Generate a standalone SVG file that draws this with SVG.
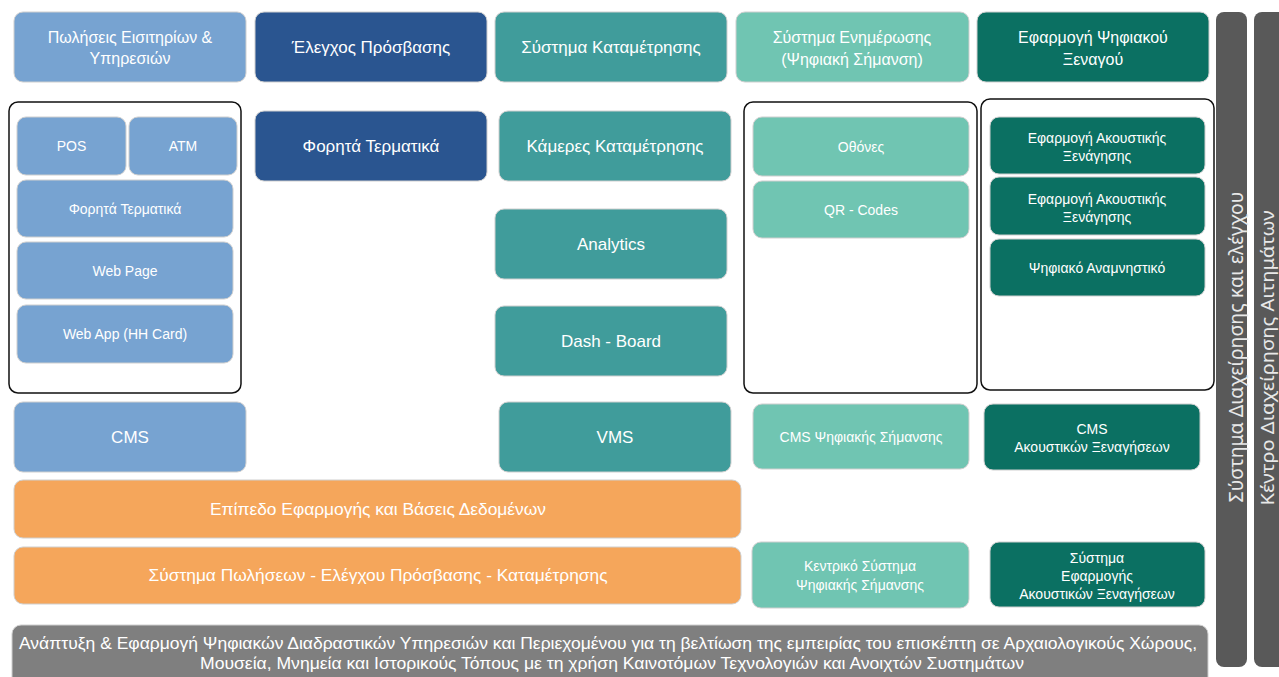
<svg xmlns="http://www.w3.org/2000/svg" width="1279" height="677" viewBox="0 0 1279 677">
<style>
text{font-family:"Liberation Sans",Arial,sans-serif;fill:#fff;text-anchor:middle}
.b{stroke:#cfcfcf;stroke-width:1}
.lb{fill:#77a3d1}.db{fill:#2a5590}.tl{fill:#409c9b}.lt{fill:#70c5b2}.dt{fill:#0b7062}.or{fill:#f5a65b}
.cont{fill:#fff;stroke:#111;stroke-width:1.5}
.f17{font-size:17px}.f16{font-size:16px}.f14{font-size:14px}
.vt{font-family:"Noto Sans","Open Sans",sans-serif;font-size:19px;fill:#e8e8e8}
</style>
<rect width="1279" height="677" fill="#fff"/>
<g id="connectors"></g>
<!-- containers -->
<g id="container-sales"><rect class="cont" x="9" y="102" width="232" height="291" rx="9"/></g>
<g id="container-signage"><rect class="cont" x="744" y="102" width="233" height="291" rx="9"/></g>
<g id="container-guide"><rect class="cont" x="981" y="99" width="233" height="291" rx="9"/></g>
<!-- top row -->
<g id="n-sales"><rect class="b lb" x="14" y="12" width="232" height="70" rx="9"/><text class="f16" x="130" y="43">Πωλήσεις Εισιτηρίων &amp;</text><text class="f16" x="130" y="64">Υπηρεσιών</text></g>
<g id="n-access"><rect class="b db" x="255" y="12" width="232" height="70" rx="9"/><text class="f17" x="371" y="53">Έλεγχος Πρόσβασης</text></g>
<g id="n-count"><rect class="b tl" x="495" y="12" width="232" height="70" rx="9"/><text class="f17" x="611" y="53">Σύστημα Καταμέτρησης</text></g>
<g id="n-info"><rect class="b lt" x="736" y="12" width="233" height="70" rx="9"/><text class="f16" x="852" y="43">Σύστημα Ενημέρωσης</text><text class="f16" x="852" y="65">(Ψηφιακή Σήμανση)</text></g>
<g id="n-guide"><rect class="b dt" x="977" y="12" width="232" height="70" rx="9"/><text class="f16" x="1093" y="43">Εφαρμογή Ψηφιακού</text><text class="f16" x="1093" y="65">Ξεναγού</text></g>
<!-- sales column -->
<g id="n-pos"><rect class="b lb" x="17" y="117" width="109" height="58" rx="9"/><text class="f14" x="71.5" y="151">POS</text></g>
<g id="n-atm"><rect class="b lb" x="129" y="117" width="108" height="58" rx="9"/><text class="f14" x="183" y="151">ATM</text></g>
<g id="n-mobile1"><rect class="b lb" x="17" y="180" width="216" height="57" rx="9"/><text class="f14" x="125" y="214">Φορητά Τερματικά</text></g>
<g id="n-webpage"><rect class="b lb" x="17" y="242" width="216" height="57" rx="9"/><text class="f14" x="125" y="276">Web Page</text></g>
<g id="n-webapp"><rect class="b lb" x="17" y="305" width="216" height="58" rx="9"/><text class="f14" x="125" y="339">Web App (HH Card)</text></g>
<g id="n-cms1"><rect class="b lb" x="14" y="402" width="232" height="70" rx="9"/><text class="f17" x="130" y="443">CMS</text></g>
<!-- access column -->
<g id="n-mobile2"><rect class="b db" x="255" y="111" width="232" height="70" rx="9"/><text class="f17" x="371" y="152">Φορητά Τερματικά</text></g>
<!-- counting column -->
<g id="n-cameras"><rect class="b tl" x="499" y="111" width="232" height="70" rx="9"/><text class="f17" x="615" y="152">Κάμερες Καταμέτρησης</text></g>
<g id="n-analytics"><rect class="b tl" x="495" y="209" width="232" height="70" rx="9"/><text class="f17" x="611" y="250">Analytics</text></g>
<g id="n-dash"><rect class="b tl" x="495" y="306" width="232" height="70" rx="9"/><text class="f17" x="611" y="347">Dash - Board</text></g>
<g id="n-vms"><rect class="b tl" x="499" y="402" width="232" height="70" rx="9"/><text class="f17" x="615" y="443">VMS</text></g>
<!-- signage column -->
<g id="n-screens"><rect class="b lt" x="753" y="117" width="216" height="59" rx="9"/><text class="f14" x="861" y="152">Οθόνες</text></g>
<g id="n-qr"><rect class="b lt" x="753" y="181" width="216" height="57" rx="9"/><text class="f14" x="861" y="215">QR - Codes</text></g>
<g id="n-cms-sign"><rect class="b lt" x="753" y="404" width="216" height="65" rx="9"/><text class="f14" x="861" y="442">CMS Ψηφιακής Σήμανσης</text></g>
<g id="n-central-sign"><rect class="b lt" x="752" y="542" width="217" height="66" rx="9"/><text class="f14" x="860" y="571">Κεντρικό Σύστημα</text><text class="f14" x="860" y="590">Ψηφιακής Σήμανσης</text></g>
<!-- guide column -->
<g id="n-audio1"><rect class="b dt" x="990" y="117" width="215" height="57" rx="9"/><text class="f14" x="1097" y="143">Εφαρμογή Ακουστικής</text><text class="f14" x="1097" y="161">Ξενάγησης</text></g>
<g id="n-audio2"><rect class="b dt" x="990" y="177" width="215" height="58" rx="9"/><text class="f14" x="1097" y="204">Εφαρμογή Ακουστικής</text><text class="f14" x="1097" y="222">Ξενάγησης</text></g>
<g id="n-souvenir"><rect class="b dt" x="990" y="239" width="215" height="57" rx="9"/><text class="f14" x="1097" y="273">Ψηφιακό Αναμνηστικό</text></g>
<g id="n-cms-audio"><rect class="b dt" x="984" y="404" width="216" height="66" rx="9"/><text class="f14" x="1092" y="434">CMS</text><text class="f14" x="1092" y="452">Ακουστικών Ξεναγήσεων</text></g>
<g id="n-sys-audio"><rect class="b dt" x="990" y="542" width="215" height="65" rx="9"/><text class="f14" x="1097" y="563">Σύστημα</text><text class="f14" x="1097" y="581">Εφαρμογής</text><text class="f14" x="1097" y="599">Ακουστικών Ξεναγήσεων</text></g>
<!-- orange layers -->
<g id="n-app-layer"><rect class="b or" x="14" y="480" width="727" height="58" rx="9"/><text class="f16" x="378" y="515" textLength="336" lengthAdjust="spacingAndGlyphs">Επίπεδο Εφαρμογής και Βάσεις Δεδομένων</text></g>
<g id="n-sales-sys"><rect class="b or" x="14" y="547" width="727" height="57" rx="9"/><text class="f16" x="378" y="581" textLength="459" lengthAdjust="spacingAndGlyphs">Σύστημα Πωλήσεων - Ελέγχου Πρόσβασης - Καταμέτρησης</text></g>
<!-- bottom bar -->
<g id="n-bottom"><rect x="12" y="625" width="1196" height="70" rx="9" fill="#7f7f7f" stroke="#cfcfcf"/><text class="f16" x="608" y="649" textLength="1178" lengthAdjust="spacingAndGlyphs">Ανάπτυξη &amp; Εφαρμογή Ψηφιακών Διαδραστικών Υπηρεσιών και Περιεχομένου για τη βελτίωση της εμπειρίας του επισκέπτη σε Αρχαιολογικούς Χώρους,</text><text class="f16" x="612" y="669" textLength="824" lengthAdjust="spacingAndGlyphs">Μουσεία, Μνημεία και Ιστορικούς Τόπους με τη χρήση Καινοτόμων Τεχνολογιών και Ανοιχτών Συστημάτων</text></g>
<!-- vertical bars -->
<g id="n-mgmt"><rect x="1216" y="12" width="31" height="655" rx="8" fill="#595959"/><text class="vt" transform="translate(1243,347) rotate(-90)" x="0" y="0" textLength="311" lengthAdjust="spacingAndGlyphs">Σύστημα Διαχείρησης και ελέγχου</text></g>
<g id="n-center"><rect x="1254" y="12" width="40" height="655" rx="8" fill="#595959"/><text class="vt" style="font-size:18px" transform="translate(1274,358) rotate(-90)" x="0" y="0" textLength="295" lengthAdjust="spacingAndGlyphs">Κέντρο Διαχείρησης Αιτημάτων</text></g>
</svg>
